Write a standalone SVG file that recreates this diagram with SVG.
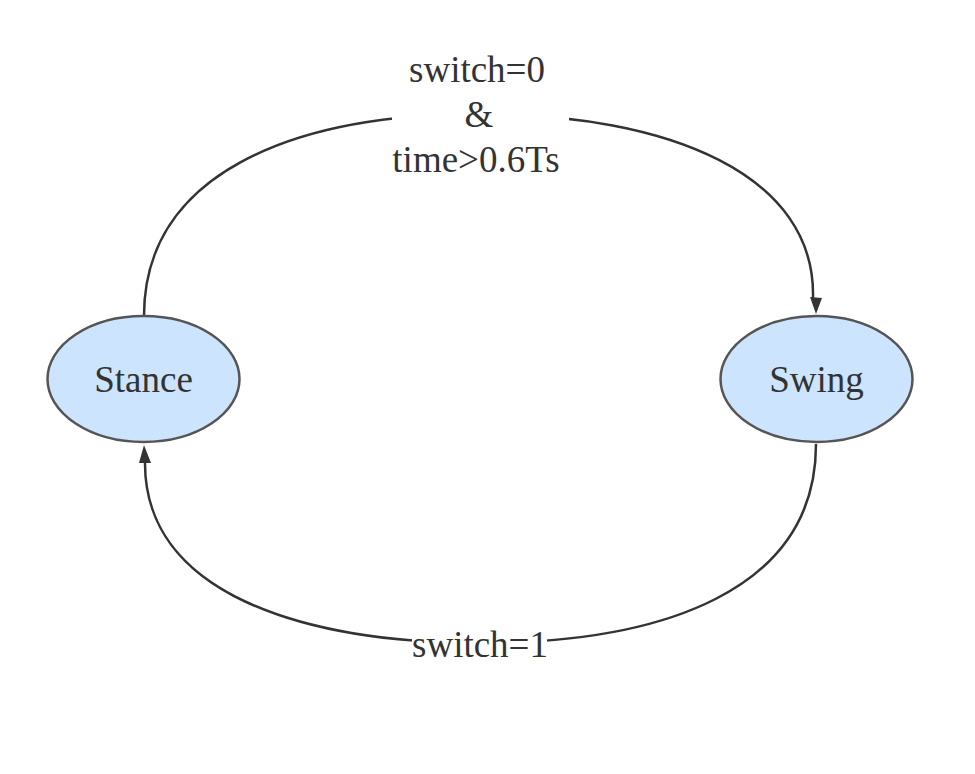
<svg xmlns="http://www.w3.org/2000/svg" width="975" height="774" viewBox="0 0 975 774">
<defs>
<style>
.node ellipse{fill:#cce4fd;stroke:#555;stroke-width:2.5}
.lbl{font-family:"Liberation Serif","Times New Roman",serif;font-size:37px;fill:#333;text-anchor:middle}
.edge{fill:none;stroke:#333;stroke-width:2.5}
</style>
</defs>
<rect width="975" height="774" fill="#fff"/>
<g id="connectors">
<path class="edge" d="M144,316 C144,175 290,114 480,114 C670,114 816,175 813,298"/>
<path d="M816,314 L810,297 L822,298 z" fill="#333"/>
<path class="edge" d="M816,444 C816,592 660,643 480,643 C300,643 144,592 145,462"/>
<path d="M144,445 L139,463 L151,463 z" fill="#333"/>
<rect x="392" y="50" width="177" height="135" fill="#fff"/>
<rect x="412" y="625" width="135" height="40" fill="#fff"/>
<text class="lbl" x="477" y="82">switch=0</text>
<text class="lbl" x="479" y="127">&amp;</text>
<text class="lbl" x="476" y="172">time&gt;0.6Ts</text>
<text class="lbl" x="480" y="657">switch=1</text>
</g>
<g id="stance" class="node">
<ellipse cx="143.5" cy="379" rx="96" ry="63"/>
<text class="lbl" x="143.5" y="392">Stance</text>
</g>
<g id="swing" class="node">
<ellipse cx="816.5" cy="379" rx="96" ry="63"/>
<text class="lbl" x="816.5" y="392">Swing</text>
</g>
</svg>
